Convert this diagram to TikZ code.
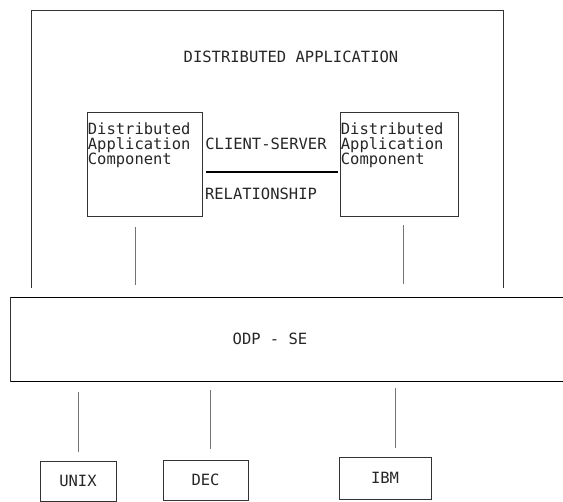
\documentclass[tikz,border=0pt]{standalone}
\usepackage{fontspec}
\setmonofont{DejaVu Sans Mono}
\usetikzlibrary{positioning,calc}

\begin{document}
\begin{tikzpicture}[
    x=1pt, y=1pt,
    boxline/.style={draw=black!80, line width=0.7pt},
    txt/.style={font=\ttfamily\fontsize{15.5}{15}\selectfont, text=black!85, inner sep=0pt},
    compbox/.style={boxline, minimum width=115pt, minimum height=104pt, inner sep=0pt},
    osbox/.style={boxline, txt, minimum height=40pt},
    link/.style={draw=black!55, line width=0.5pt},
    relline/.style={draw=black, line width=1.2pt}
]
    \useasboundingbox (0,0) rectangle (563,502);

    \coordinate (fbl) at (31,214);
    \coordinate (fbr) at (503,214);
    \draw[boxline] (fbl) -- (31,492) -- (503,492) -- (fbr);
    \node[txt] (title) at (291,445) {DISTRIBUTED APPLICATION};

    \node[compbox, label={[txt, anchor=north west, align=left, xshift=1pt, yshift=-11pt]north west:Distributed\\Application\\Component}] (dacL) at (144.5,338) {};
    \node[compbox, minimum width=118pt, label={[txt, anchor=north west, align=left, xshift=1pt, yshift=-11pt]north west:Distributed\\Application\\Component}] (dacR) at (399,338) {};

    \draw[relline, shorten <=4pt, shorten >=2pt] ([yshift=-8pt]dacL.east) -- ([yshift=-8pt]dacR.west)
        node[txt, midway, above=22pt, xshift=-5pt] (cs) {CLIENT-SERVER}
        node[txt, midway, below=15pt, xshift=-10pt, anchor=north] (rel) {RELATIONSHIP};

    \node[minimum width=552pt, minimum height=83pt, inner sep=0pt] (odp) at (287,162.5) {};
    \draw[boxline] (odp.north east) -- (odp.north west) -- (odp.south west) -- (odp.south east);
    \draw[black, line width=1.1pt] (odp.north west) -- (odp.north east) (odp.south west) -- (odp.south east);
    \node[txt] (odplbl) at (270,163) {ODP - SE};

    \draw[link, shorten <=11pt, shorten >=13pt] ([xshift=-9.5pt]dacL.south) -- ([xshift=-9.5pt]dacL.south |- odp.north);
    \draw[link, shorten <=9pt, shorten >=14pt] ([xshift=4pt]dacR.south) -- ([xshift=4pt]dacR.south |- odp.north);

    \node[osbox, minimum width=76pt] (unix) at (78,21) {UNIX};
    \node[osbox, minimum width=85pt] (dec) at (205.5,22) {DEC};
    \node[osbox, minimum width=92pt, minimum height=42pt] (ibm) at (385,24) {IBM};

    \draw[link, shorten <=11pt, shorten >=9pt] (odp.south -| unix.north) -- (unix.north);
    \draw[link, shorten <=9pt, shorten >=11pt] ([xshift=4.5pt]odp.south -| dec.north) -- ([xshift=4.5pt]dec.north);
    \draw[link, shorten <=7pt, shorten >=9pt] ([xshift=10pt]odp.south -| ibm.north) -- ([xshift=10pt]ibm.north);
\end{tikzpicture}
\end{document}
